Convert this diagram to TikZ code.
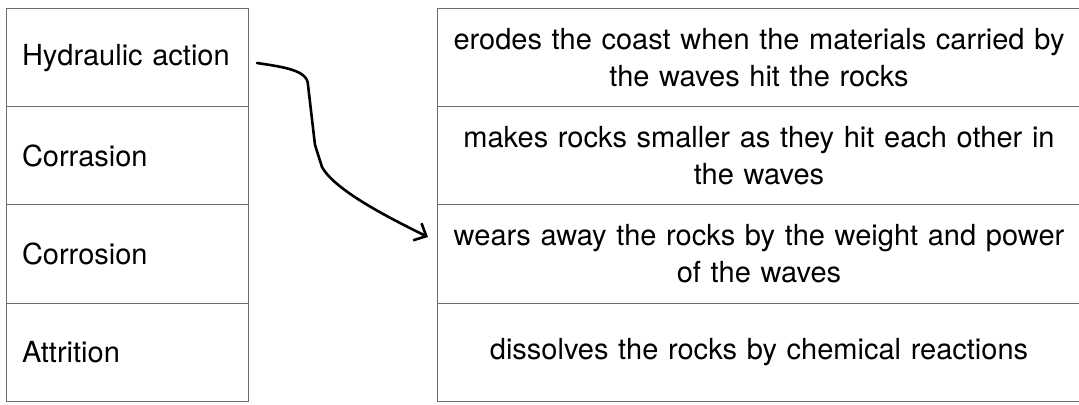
\documentclass[tikz,border=0pt]{standalone}
\usepackage{fontspec}
\setmainfont{TeX Gyre Heros}
\usetikzlibrary{arrows.meta, positioning, calc}
\definecolor{cellborder}{HTML}{6E6E6E}

\begin{document}
\begin{tikzpicture}[x=0.5pt, y=-0.5pt,
      cell/.style={draw=cellborder, line width=0.5pt, minimum height=49pt,
        inner sep=0pt, outer sep=0pt, font=\fontsize{14.5}{18.5}\selectfont},
      term/.style={cell, minimum width=121pt, text width=105pt, align=left},
      meaning/.style={cell, minimum width=322pt, text width=312pt, align=center},
      >={Straight Barb[length=5pt, width=9.5pt]}
    ]
      \useasboundingbox (0,0) rectangle (1079,405);
      \clip (0,0) rectangle (1079,405);

      \node[term] (hydraulic) at (127,58) {Hydraulic action};
      \node[term, below=0pt of hydraulic] (corrasion) {Corrasion};
      \node[term, below=0pt of corrasion] (corrosion) {Corrosion};
      \node[term, below=0pt of corrosion] (attrition) {Attrition};

      \node[meaning] (erodes) at (759,58)
        {erodes the coast when the materials carried by\\the waves hit the rocks};
      \node[meaning, below=0pt of erodes] (smaller)
        {makes rocks smaller as they hit each other in\\the waves};
      \node[meaning, below=0pt of smaller] (wears)
        {wears away the rocks by the weight and power\\of the waves};
      \node[meaning, below=0pt of wears] (dissolves)
        {dissolves the rocks by chemical reactions};

      \coordinate (start) at ($(hydraulic.east)+(4.5pt,-2.5pt)$);
      \coordinate (tip) at ($(wears.west)+(-4.5pt,8.5pt)$);
      \draw[->, line width=1.3pt, line cap=round, line join=round] (start)
        .. controls +(26,4) and +(0,-15) .. (308,85) -- (315,145) -- (322,167)
        .. controls +(12,22) and +(-45,-22) .. (tip);
    \end{tikzpicture}
\end{document}
